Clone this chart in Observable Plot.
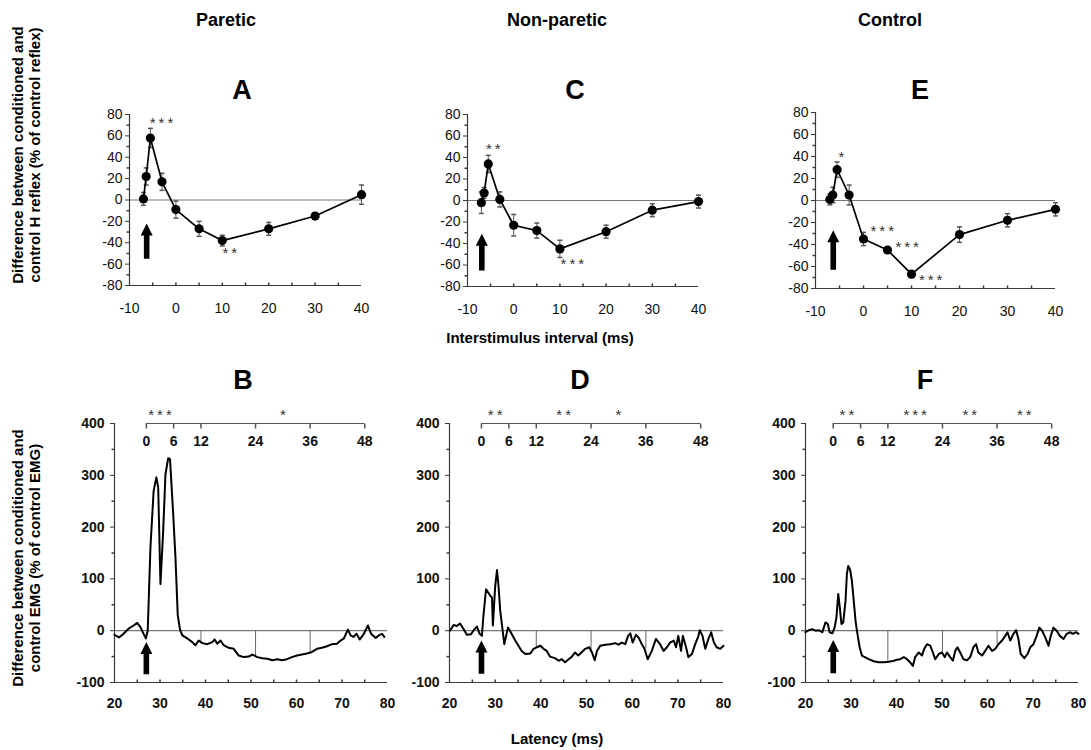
<!DOCTYPE html>
<html><head><meta charset="utf-8">
<script src="https://cdn.jsdelivr.net/npm/d3@7"></script>
<script src="https://cdn.jsdelivr.net/npm/@observablehq/plot@0.6"></script>
<style>
body{margin:0;background:#fff;font-family:"Liberation Sans",Arial,sans-serif;}
#fig{position:relative;width:1091px;height:750px;overflow:hidden;background:#fff;}
.t{position:absolute;font-weight:bold;transform:translate(-50%,-50%);white-space:nowrap;color:#000;}
.yl{position:absolute;font-weight:bold;line-height:17px;text-align:center;white-space:nowrap;transform:translate(-50%,-50%) rotate(-90deg);}
</style></head><body><div id="fig"></div>
<script>
// ---------------- DATA ----------------
const columnTitles = ["Paretic", "Non-paretic", "Control"];
const topLetters = ["A", "C", "E"];
const bottomLetters = ["B", "D", "F"];

// Top row: H-reflex difference vs interstimulus interval
const isi = [-7, -6.4, -5.5, -3, 0, 5, 10, 20, 30, 40];
const pareticH    = [1, 22, 58, 17, -9, -27, -38, -27, -15, 5];
const pareticHErr = [6, 8, 9, 8, 8, 7, 5, 6, 3, 9];
const nonPareticH    = [-2, 7, 34, 1, -23, -28, -45, -29, -9, -1];
const nonPareticHErr = [10, 5, 8, 7, 10, 7, 8, 6, 6, 6];
const controlH    = [1, 5, 28, 5, -35, -45, -67, -31, -18, -8];
const controlHErr = [5, 7, 7, 9, 6, 3, 3, 7, 6, 6];

// significance stars (top): x, y, label
const pareticHStarX = [-3.1, 11.6], pareticHStarY = [72, -50], pareticHStars = ["***", "**"];
const nonPareticHStarX = [-4.4, 12.7], nonPareticHStarY = [48, -59], nonPareticHStars = ["**", "***"];
const controlHStarX = [-4.6, 3.9, 9.1, 14], controlHStarY = [39, -28, -42, -72], controlHStars = ["*", "***", "***", "***"];

// stimulus arrows (top): x, base, tip
const topArrowX = [-6.3, -6.9, -6.3];
const topArrowBase = [-55, -65, -63];
const topArrowTip = [-22, -31, -27];

const yTicksH = [-80, -60, -40, -20, 0, 20, 40, 60, 80];
const yMinorH = [-70, -50, -30, -10, 10, 30, 50, 70];
const xTicksH = [-10, 0, 10, 20, 30, 40];
const xMarksH = [-5, 0, 5, 10, 15, 20, 25, 30, 35];

// Bottom row: EMG difference vs latency
const pareticLat = [20,21,22,23.1,24.2,25,25.7,26.4,26.9,27.3,27.6,27.9,28.6,29.2,29.6,30.1,30.7,31.2,31.8,32.2,32.9,33.4,33.9,34.4,34.9,36,37.1,37.8,38.5,39.3,40.4,41.5,42,42.6,43.3,44,45.1,46.2,47.3,48.4,49.5,50.3,51.4,52.5,53.6,54.7,55.8,56.8,57.9,59,60.1,61.2,62.3,63.4,64.5,65.6,66.7,67.8,68.9,69.7,70.4,71.3,71.9,72.5,73.2,73.9,74.8,75.7,76.4,77.4,78.1,78.8,79.3];
const pareticEmg = [-8,-13,-6,4,10,15,7,-6,-15,0,80,161,270,296,277,90,193,302,333,331,225,141,30,2,-9,-15,-22,-28,-19,-24,-26,-22,-17,-25,-19,-28,-33,-35,-48,-51,-50,-46,-51,-53,-54,-57,-55,-57,-55,-51,-48,-46,-44,-41,-35,-33,-30,-26,-25,-19,-15,2,-9,-12,-6,-17,-6,10,-6,-14,-9,-6,-12];

const nonPareticLat = [20.1,20.9,21.6,22.3,23.1,23.8,24.7,25.3,26,26.6,27.1,27.4,28,28.9,29.3,29.5,30,30.4,30.7,31.1,32,32.8,33.6,34.4,35.1,35.8,36.6,37.7,38.4,39.1,39.9,40.6,41.3,42,43.1,43.9,44.6,45.3,46.1,46.8,47.5,48.2,48.9,49.7,50.6,51.2,51.8,52.3,53,54.1,55.2,56.3,57,57.7,58.5,59.1,59.6,60.1,60.8,61.4,62.1,62.7,63.4,64.3,65.2,66.1,66.9,67.6,68.3,69.1,69.6,70.1,70.7,71.1,71.8,72.3,73.1,73.8,74.4,74.8,75.4,76,76.7,77.3,77.9,78.5,79.3,80];
const nonPareticEmg = [0,11,9,14,3,-8,-7,1,8,-6,-10,26,80,68,64,10,85,117,90,39,-26,6,-6,-19,-29,-39,-45,-44,-35,-32,-29,-35,-39,-50,-53,-58,-55,-61,-55,-50,-42,-48,-42,-35,-32,-42,-57,-39,-29,-27,-26,-24,-27,-23,-26,-10,-5,-23,-8,-13,-26,-35,-55,-39,-16,-26,-39,-32,-23,-19,-32,-10,-39,-10,-32,-51,-45,-26,-13,1,-10,-35,-16,-3,-23,-32,-35,-29];

const controlLat = [20,20.7,21.5,22.2,22.9,23.7,24.4,24.9,25.3,25.9,26.4,26.8,27.2,27.5,27.9,28.3,28.8,29.1,29.4,29.8,30.2,30.6,31,31.3,31.9,32.4,32.8,33.9,35,36.1,37.2,38.3,39.4,40.1,40.8,41.6,42.3,43,43.6,44.1,44.9,45.6,46.1,46.7,47.4,48,48.5,49.3,50,50.6,51.1,51.8,52.4,52.9,53.4,54,54.7,55.5,56.2,56.9,57.5,58,58.8,59.5,60.2,61,61.7,62.4,63.2,63.9,64.4,65,65.7,66.3,66.8,67.3,68.1,68.8,69.4,70.1,70.8,71.4,72,72.7,73.4,73.9,74.5,75.2,75.9,76.7,77.4,78.2,78.7,79.5,80];
const controlEmg = [-3,1,3,0,1,-3,16,13,-3,-5,6,26,71,48,13,16,58,110,125,118,96,58,19,0,-32,-48,-50,-55,-59,-61,-61,-60,-58,-56,-55,-51,-55,-61,-68,-51,-42,-48,-35,-26,-29,-42,-55,-45,-42,-51,-42,-51,-58,-39,-32,-42,-55,-57,-51,-32,-26,-42,-48,-39,-29,-39,-35,-26,-19,-10,-3,-19,-6,1,-16,-45,-53,-45,-32,-26,-10,6,0,-13,-29,-10,6,0,-10,-16,-6,-3,-6,-3,-6];

// window axis (ms after stimulus) on top of EMG panels
const windowTicks = [0, 6, 12, 24, 36, 48];
const windowLines = [12, 24, 36];
const windowOffset = [27, 27, 26.1];   // latency of window 0
const pareticWinStarX = [3, 30], pareticWinStars = ["***", "*"];
const nonPareticWinStarX = [3, 18, 30], nonPareticWinStars = ["**", "**", "*"];
const controlWinStarX = [3, 18, 30, 42], controlWinStars = ["**", "***", "**", "**"];

// stimulus arrows (bottom)
const bottomArrowX = [27, 27, 26.1];
const bottomArrowBase = [-84, -83, -82];
const bottomArrowTip = [-22, -19, -18];

const yTicksE = [-100, 0, 100, 200, 300, 400];
const yMinorE = [-50, 50, 150, 250, 350];
const xTicksE = [20, 30, 40, 50, 60, 70, 80];
const xMarksE = [25, 30, 35, 40, 45, 50, 55, 60, 65, 70, 75];

// ---------------- HELPERS ----------------
const fig = document.getElementById("fig");
const FONT = "'Liberation Sans', Arial, sans-serif";
const AX = "#3a3a3a";

function place(node, left, top) {
  node.style.position = "absolute";
  node.style.left = left + "px";
  node.style.top = top + "px";
  fig.appendChild(node);
}
function label(text, x, y, size, cls = "t") {
  const d = document.createElement("div");
  d.className = cls;
  d.style.left = x + "px"; d.style.top = y + "px";
  d.style.fontSize = size + "px";
  d.innerHTML = text;
  fig.appendChild(d);
}
const tickSym = (dx, dy) => ({draw(ctx, size) { const r = Math.sqrt(size / Math.PI); ctx.moveTo(0, 0); ctx.lineTo(dx * r, dy * r); }});
const capSym = {draw(ctx, size) { const r = Math.sqrt(size / Math.PI); ctx.moveTo(-r, 0); ctx.lineTo(r, 0); }};
const arrowSym = (len) => ({draw(ctx) {
  const hw = 6, hh = 12, sw = 2.8;
  ctx.moveTo(0, -len); ctx.lineTo(hw, -len + hh); ctx.lineTo(sw, -len + hh); ctx.lineTo(sw, 0);
  ctx.lineTo(-sw, 0); ctx.lineTo(-sw, -len + hh); ctx.lineTo(-hw, -len + hh); ctx.closePath();
}});
const spaced = s => s.split("").join("\u2009");

// ---------------- TOP PANELS ----------------
function hPanel(i, vals, errs, sx, sy, st, fr) {
  const mL = 45, mR = 16, mT = 20, mB = 35;
  const fw = fr.x1 - fr.x0, fh = fr.y1 - fr.y0;
  const data = isi.map((x, k) => ({x, y: vals[k], e: errs[k]}));
  const stars = sx.map((x, k) => ({x, y: sy[k], t: spaced(st[k])}));
  const pxPerUnit = fh / 160;
  const arrow = [{x: topArrowX[i], y: topArrowBase[i], len: (topArrowTip[i] - topArrowBase[i]) * pxPerUnit}];
  const svg = Plot.plot({
    width: fw + mL + mR, height: fh + mT + mB,
    marginLeft: mL, marginRight: mR, marginTop: mT, marginBottom: mB,
    x: {domain: [-10, 40]}, y: {domain: [-80, 80]},
    style: {fontFamily: FONT, fontSize: "14px", background: "transparent", color: "#111"},
    marks: [
      Plot.ruleY([0], {stroke: "#777", strokeWidth: 1.2}),
      Plot.ruleX([-10], {y1: -80, y2: 80, stroke: AX, strokeWidth: 1.2}),
      Plot.ruleY([-80], {x1: -10, x2: 40, stroke: AX, strokeWidth: 1.2}),
      Plot.axisY(yTicksH, {label: null, tickSize: 4, tickPadding: 3, stroke: AX, tickFormat: d => String(d), fontSize: 14}),
      Plot.dot(yMinorH, {x: () => -10, y: d => d, symbol: tickSym(-1, 0), r: 3, stroke: AX, fill: "none"}),
      Plot.axisX(xTicksH, {label: null, tickSize: 0, tickPadding: 18, tickFormat: d => String(d), fontSize: 14}),
      Plot.dot(xMarksH, {x: d => d, y: () => -80, symbol: tickSym(0, -1), r: 3, stroke: AX, fill: "none"}),
      Plot.ruleX(data, {x: "x", y1: d => d.y - d.e, y2: d => d.y + d.e, stroke: "#555", strokeWidth: 1}),
      Plot.dot(data, {x: "x", y: d => d.y + d.e, symbol: capSym, r: 2.5, stroke: "#555", fill: "none"}),
      Plot.dot(data, {x: "x", y: d => d.y - d.e, symbol: capSym, r: 2.5, stroke: "#555", fill: "none"}),
      Plot.line(data, {x: "x", y: "y", stroke: "#000", strokeWidth: 1.7}),
      Plot.dot(data, {x: "x", y: "y", r: 4.6, fill: "#000", stroke: "none"}),
      Plot.text(stars, {x: "x", y: "y", text: "t", fontSize: 15, fill: "#333"}),
      Plot.dot(arrow, {x: "x", y: "y", symbol: arrowSym(arrow[0].len), fill: "#000", stroke: "none"})
    ]
  });
  place(svg, fr.x0 - mL, fr.y0 - mT);
}

hPanel(0, pareticH, pareticHErr, pareticHStarX, pareticHStarY, pareticHStars, {x0: 129, x1: 361, y0: 114, y1: 285});
hPanel(1, nonPareticH, nonPareticHErr, nonPareticHStarX, nonPareticHStarY, nonPareticHStars, {x0: 467, x1: 698, y0: 114, y1: 286});
hPanel(2, controlH, controlHErr, controlHStarX, controlHStarY, controlHStars, {x0: 815, x1: 1055, y0: 112, y1: 288});

// ---------------- BOTTOM PANELS ----------------
function ePanel(i, lat, emg, wsx, wst, fr) {
  const mL = 45, mR = 12, mT = 30, mB = 30;
  const fw = fr.x1 - fr.x0, fh = fr.y1 - fr.y0;
  const off = windowOffset[i];
  const trace = lat.map((x, k) => ({x, y: emg[k]}));
  const near = L => d3.least(trace, d => Math.abs(d.x - L)).y;
  const wl = windowLines.map(k => ({x: off + k, y: near(off + k)}));
  const stars = wsx.map((x, k) => ({x: off + x, t: spaced(wst[k])}));
  const pxPerUnit = fh / 500;
  const arrow = [{x: bottomArrowX[i], y: bottomArrowBase[i], len: (bottomArrowTip[i] - bottomArrowBase[i]) * pxPerUnit}];
  const svg = Plot.plot({
    width: fw + mL + mR, height: fh + mT + mB,
    marginLeft: mL, marginRight: mR, marginTop: mT, marginBottom: mB,
    x: {domain: [20, 80]}, y: {domain: [-100, 400]},
    style: {fontFamily: FONT, fontSize: "14px", fontWeight: "bold", background: "transparent", color: "#111"},
    marks: [
      Plot.ruleY([0], {x1: 20, x2: 80, stroke: "#555", strokeWidth: 1}),
      Plot.ruleX(wl, {x: "x", y1: 0, y2: "y", stroke: "#666", strokeWidth: 1}),
      Plot.ruleX([20], {y1: -100, y2: 400, stroke: AX, strokeWidth: 1.2}),
      Plot.ruleY([-100], {x1: 20, x2: 80, stroke: AX, strokeWidth: 1.2}),
      Plot.axisY(yTicksE, {label: null, tickSize: 4, tickPadding: 6, stroke: AX, tickFormat: d => String(d), fontSize: 14, fontWeight: "bold"}),
      Plot.dot(yMinorE, {x: () => 20, y: d => d, symbol: tickSym(-1, 0), r: 3, stroke: AX, fill: "none"}),
      Plot.axisX(xTicksE, {label: null, tickSize: 0, tickPadding: 16, tickFormat: d => String(d), fontSize: 14, fontWeight: "bold"}),
      Plot.dot(xMarksE, {x: d => d, y: () => -100, symbol: tickSym(0, -1), r: 3, stroke: AX, fill: "none"}),
      // window axis on top
      Plot.ruleY([400], {x1: off, x2: off + 48, stroke: "#555", strokeWidth: 1.2}),
      Plot.dot(windowTicks, {x: d => off + d, y: () => 400, symbol: tickSym(0, 1), r: 5, stroke: "#555", fill: "none"}),
      Plot.text(windowTicks, {x: d => off + d, y: () => 400, text: d => String(d), dy: 18, fontSize: 14, fontWeight: "bold", fill: "#111"}),
      Plot.text(stars, {x: "x", y: () => 400, text: "t", dy: -8, fontSize: 15, fontWeight: "normal", fill: "#333"}),
      Plot.line(trace, {x: "x", y: "y", stroke: "#000", strokeWidth: 2}),
      Plot.dot(arrow, {x: "x", y: "y", symbol: arrowSym(arrow[0].len), fill: "#000", stroke: "none"})
    ]
  });
  place(svg, fr.x0 - mL, fr.y0 - mT);
}

ePanel(0, pareticLat, pareticEmg, pareticWinStarX, pareticWinStars, {x0: 114, x1: 387, y0: 423, y1: 682});
ePanel(1, nonPareticLat, nonPareticEmg, nonPareticWinStarX, nonPareticWinStars, {x0: 449, x1: 723, y0: 423, y1: 682});
ePanel(2, controlLat, controlEmg, controlWinStarX, controlWinStars, {x0: 805, x1: 1078, y0: 423, y1: 682});

// ---------------- TEXT ----------------
const colX = [226, 557, 890];
columnTitles.forEach((t, k) => label(t, colX[k], 20, 18));
const topLetterX = [242, 575, 920], bottomLetterX = [243, 580, 925];
topLetters.forEach((t, k) => label(t, topLetterX[k], 90, 27));
bottomLetters.forEach((t, k) => label(t, bottomLetterX[k], 380, 27));
label("Interstimulus interval (ms)", 540, 337, 15);
label("Latency (ms)", 557, 738, 15);
label("Difference between conditioned and<br>control H reflex (% of control reflex)", 26, 155, 15, "yl");
label("Difference between conditioned and<br>control EMG (% of control EMG)", 26, 558, 15, "yl");
</script></body></html>
